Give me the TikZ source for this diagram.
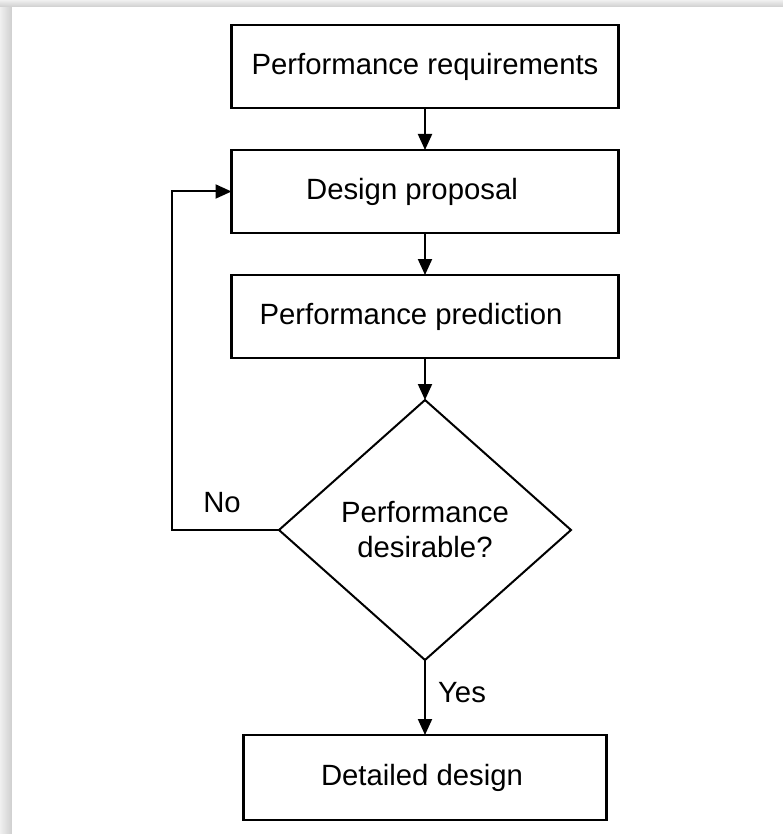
\documentclass[tikz,border=0pt]{standalone}
\usepackage{fontspec}
\setmainfont{Liberation Sans}
\usetikzlibrary{shapes.geometric,arrows.meta}

\tikzset{
  stepbox/.style={draw, line width=2.2pt, minimum width=387pt, minimum height=83pt,
                  inner sep=0pt, outer sep=0pt, font=\fontsize{29.3}{34}\selectfont},
  decision/.style={draw, diamond, line width=2pt, minimum width=292pt, minimum height=260pt,
                   inner sep=0pt, outer sep=0pt, align=center, font=\fontsize{29.3}{35}\selectfont},
  flow/.style={line width=2pt, -{Triangle[length=16pt,width=14pt]}},
  tag/.style={font=\fontsize{29.3}{34}\selectfont, inner sep=0pt}
}

\begin{document}
\begin{tikzpicture}[x=1pt,y=-1pt]
  \useasboundingbox (0,0) rectangle (783,834);
  % page frame with soft shadow on the top and left
  \fill[gray!22] (0,0) rectangle (783,834);
  \shade[left color=gray!12, right color=gray!38] (0,0) rectangle (12,834);
  \shade[top color=gray!12, bottom color=gray!38] (0,0) rectangle (783,7);
  \fill[white] (12,7) rectangle (783,834);

  % flowchart nodes (a trailing kern moves some labels left of centre)
  \node[stepbox] (req)  at (425,66.5)  {Performance requirements};
  \node[stepbox] (prop) at (425,191.5) {Design proposal\kern26pt};
  \node[stepbox] (pred) at (425,316.5) {Performance prediction\kern28pt};
  \node[decision] (ok)  at (425,530)   {Performance\\desirable?};
  \node[stepbox, minimum width=363pt, minimum height=85pt] (det) at (425,777.5) {Detailed design\kern6pt};

  % connectors
  \draw[flow] (req.south)  -- (prop.north);
  \draw[flow] (prop.south) -- (pred.north);
  \draw[flow] (pred.south) -- (ok.north);
  \draw[flow] (ok.south)   -- (det.north);
  \coordinate (loop) at (172,530);
  \draw[flow] (ok.west) -- (loop) |- (prop.west);

  % branch labels
  \node[tag] (no)  at (222,503) {No};
  \node[tag] (yes) at (462,693) {Yes};
\end{tikzpicture}
\end{document}
